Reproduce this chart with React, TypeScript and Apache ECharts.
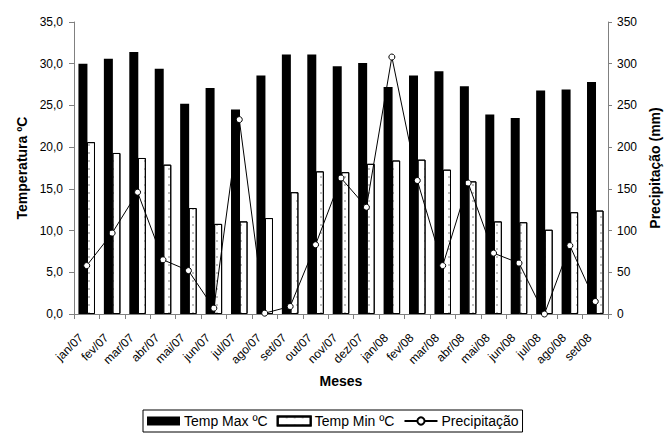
import React, { useEffect, useRef } from "react";
import * as echarts from "echarts";

const months = ["jan/07","fev/07","mar/07","abr/07","mai/07","jun/07","jul/07","ago/07","set/07","out/07","nov/07","dez/07","jan/08","fev/08","mar/08","abr/08","mai/08","jun/08","jul/08","ago/08","set/08"];
const tempMax = [30.0,30.6,31.4,29.4,25.2,27.1,24.5,28.6,31.1,31.1,29.7,30.1,27.2,28.6,29.1,27.3,23.9,23.5,26.8,26.9,27.8];
const tempMin = [20.6,19.3,18.7,17.9,12.7,10.8,11.1,11.5,14.6,17.1,17.0,18.0,18.4,18.5,17.3,15.9,11.1,11.0,10.1,12.2,12.4];
const precip = [58,97,146,65,52,7,233,1,9,83,163,128,308,160,58,157,73,61,0,82,15];

const FONT = "'Liberation Sans', Arial, sans-serif";

export default function App() {
  const ref = useRef<HTMLDivElement>(null);
  useEffect(() => {
    const chart = echarts.init(ref.current!, null, { renderer: "svg" });
    chart.setOption({
      animation: false,
      backgroundColor: "#fff",
      textStyle: { fontFamily: FONT, color: "#000" },
      grid: { left: 74, right: 56, top: 22, bottom: 122 },
      legend: {
        left: 143,
        top: 410,
        borderColor: "#000",
        borderWidth: 1,
        padding: [4, 4, 4, 4],
        itemGap: 9,
        itemWidth: 33,
        itemHeight: 9,
        textStyle: { fontFamily: FONT, fontSize: 14, color: "#000", padding: [0, 0, 0, -1] },
        data: [
          { name: "Temp Max ºC", icon: "rect" },
          { name: "Temp Min ºC", icon: "rect" },
          { name: "Precipitação" },
        ],
      },
      xAxis: {
        type: "category",
        data: months,
        boundaryGap: true,
        name: "Meses",
        nameLocation: "middle",
        nameGap: 60,
        nameTextStyle: { fontFamily: FONT, fontSize: 14, fontWeight: "bold", color: "#000" },
        axisLine: { lineStyle: { color: "#808080", width: 1 } },
        axisTick: { show: true, alignWithLabel: false, length: 5, lineStyle: { color: "#808080" } },
        axisLabel: {
          rotate: 45,
          fontSize: 12,
          color: "#000",
          fontFamily: FONT,
          margin: 16,
          padding: [0, 8, 0, 0],
          interval: 0,
        },
      },
      yAxis: [
        {
          type: "value",
          min: 0,
          max: 35,
          interval: 5,
          name: "Temperatura ºC",
          nameLocation: "middle",
          nameRotate: 90,
          nameGap: 44,
          nameTextStyle: { fontFamily: FONT, fontSize: 14, fontWeight: "bold", color: "#000" },
          axisLine: { show: true, lineStyle: { color: "#808080" } },
          axisTick: { show: true, length: 5, lineStyle: { color: "#808080" } },
          splitLine: { show: false },
          axisLabel: {
            fontSize: 12,
            color: "#000",
            fontFamily: FONT,
            margin: 11,
            formatter: (v: number) => v.toFixed(1).replace(".", ","),
          },
        },
        {
          type: "value",
          min: 0,
          max: 350,
          interval: 50,
          name: "Precipitação (mm)",
          nameLocation: "middle",
          nameRotate: 90,
          nameGap: 40,
          nameTextStyle: { fontFamily: FONT, fontSize: 14, fontWeight: "bold", color: "#000" },
          axisLine: { show: true, lineStyle: { color: "#808080" } },
          axisTick: { show: true, length: 4, lineStyle: { color: "#808080" } },
          splitLine: { show: false },
          axisLabel: { fontSize: 12, color: "#000", fontFamily: FONT, margin: 9 },
        },
      ],
      series: [
        {
          name: "Temp Max ºC",
          type: "bar",
          data: tempMax,
          barWidth: 9,
          barGap: "-5%",
          itemStyle: { color: "#000" },
        },
        {
          name: "Temp Min ºC",
          type: "bar",
          data: tempMin,
          barWidth: 8,
          itemStyle: {
            color: "#fff",
            borderColor: "#000",
            borderWidth: 1,
            decal: {
              symbol: "rect",
              symbolSize: 0.5,
              color: "#000",
              dashArrayX: [2, 6],
              dashArrayY: [2, 6],
              rotation: 0,
            },
          },
        },
        {
          name: "Precipitação",
          type: "line",
          yAxisIndex: 1,
          data: precip,
          symbol: "circle",
          symbolSize: 6,
          showAllSymbol: true,
          lineStyle: { color: "#000", width: 1 },
          itemStyle: { color: "#fff", borderColor: "#000", borderWidth: 1 },
          z: 5,
        },
      ],
    });
    return () => chart.dispose();
  }, []);
  return (
    <div
      ref={ref}
      style={{ position: "fixed", left: 0, top: 0, width: 670, height: 436 }}
    />
  );
}
